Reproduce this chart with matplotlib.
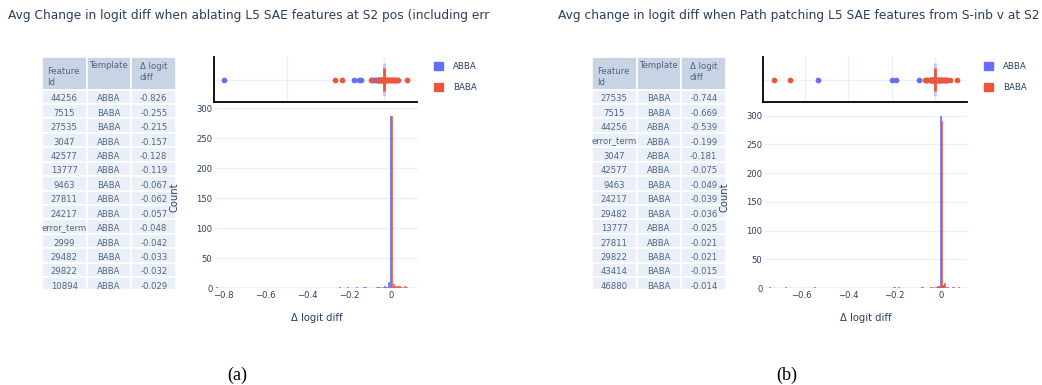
import numpy as np
import matplotlib
matplotlib.use('Agg')
import matplotlib.pyplot as plt
from matplotlib.patches import Rectangle, Patch
from matplotlib.ticker import FuncFormatter
from matplotlib.transforms import Bbox, TransformedBbox

W, H = 1042, 385
BLUE = '#636EFA'
RED = '#EF553B'
TXT = '#2a3f5f'
GRID = '#EBF0F8'
HEAD = '#C8D4E3'
CELL = '#EBF0F8'
TABLE_TXT = '#506784'

# ---- (a) ablating L5 SAE features at S2 pos ----
title_a = 'Avg Change in logit diff when ablating L5 SAE features at S2 pos (including err'
feat_a = ['44256', '7515', '27535', '3047', '42577', '13777', '9463',
          '27811', '24217', 'error_term', '2999', '29482', '29822', '10894']
tmpl_a = ['ABBA', 'BABA', 'BABA', 'ABBA', 'ABBA', 'ABBA', 'BABA',
          'ABBA', 'ABBA', 'ABBA', 'ABBA', 'BABA', 'ABBA', 'ABBA']
delta_a = [-0.826, -0.255, -0.215, -0.157, -0.128, -0.119, -0.067,
           -0.062, -0.057, -0.048, -0.042, -0.033, -0.032, -0.029]

abba_bins_a = [-0.83, -0.16, -0.13, -0.12, -0.06, -0.05, -0.04, -0.03, -0.02, -0.01, 0.0, 0.01]
abba_counts_a = [1, 1, 1, 1, 2, 1, 1, 4, 2, 10, 288, 2]
baba_bins_a = [-0.25, -0.21, -0.07, -0.03, 0.0, 0.01, 0.02, 0.03, 0.04, 0.05, 0.06, 0.07, 0.13]
baba_counts_a = [1, 1, 1, 1, 288, 7, 4, 3, 4, 2, 4, 2, 1]

abba_pts_a = [-0.826, -0.157, -0.128, -0.119, -0.062, -0.057, -0.048, -0.042,
              -0.032, -0.029, -0.025, -0.02, -0.015, -0.011, -0.008, 0.006, 0.01]
baba_pts_a = [-0.255, -0.215, -0.067, -0.033, -0.024, -0.016, -0.01, -0.005,
              0.005, 0.009, 0.014, 0.019, 0.024, 0.03, 0.035, 0.04, 0.046,
              0.052, 0.057, 0.063, 0.068, 0.072, 0.12]

# ---- (b) path patching from S-inb v at S2 ----
title_b = 'Avg change in logit diff when Path patching L5 SAE features from S-inb v at S2'
feat_b = ['27535', '7515', '44256', 'error_term', '3047', '42577', '9463',
          '24217', '29482', '13777', '27811', '29822', '43414', '46880']
tmpl_b = ['BABA', 'BABA', 'ABBA', 'ABBA', 'ABBA', 'ABBA', 'BABA',
          'BABA', 'BABA', 'ABBA', 'ABBA', 'BABA', 'BABA', 'BABA']
delta_b = [-0.744, -0.669, -0.539, -0.199, -0.181, -0.075, -0.049,
           -0.039, -0.036, -0.025, -0.021, -0.021, -0.015, -0.014]

abba_bins_b = [-0.54, -0.2, -0.18, -0.08, -0.02, -0.01, 0.0, 0.01, 0.03, 0.05]
abba_counts_b = [1, 1, 1, 1, 2, 3, 299, 6, 1, 1]
baba_bins_b = [-0.74, -0.67, -0.05, -0.04, -0.02, -0.01, 0.0, 0.01, 0.02, 0.05, 0.07, 0.11]
baba_counts_b = [1, 1, 1, 2, 4, 4, 291, 8, 2, 2, 1, 1]

abba_pts_b = [-0.539, -0.199, -0.181, -0.075, -0.025, -0.021, -0.012, -0.008,
              0.005, 0.01, 0.015, 0.026, 0.05]
baba_pts_b = [-0.744, -0.669, -0.049, -0.039, -0.036, -0.021, -0.015, -0.014,
              -0.01, -0.006, 0.004, 0.008, 0.012, 0.016, 0.02, 0.025, 0.03,
              0.035, 0.04, 0.045, 0.05, 0.055, 0.069, 0.1]

box_median = 0.0
BIN_W = 0.01

plt.rcParams['font.family'] = 'DejaVu Sans'
fig = plt.figure(figsize=(W / 100, H / 100), dpi=100)

# overlay axes in pixel units for titles, tables and captions
ov = fig.add_axes([0, 0, 1, 1])
ov.set_xlim(0, W)
ov.set_ylim(H, 0)
ov.axis('off')


def px_axes(x0, y0, x1, y1):
    return fig.add_axes([x0 / W, 1 - y1 / H, (x1 - x0) / W, (y1 - y0) / H])


def fmt_tick(v, _):
    s = '%g' % round(v, 6)
    if s in ('0', '-0'):
        return '0'
    return s.replace('-', '\u2212')


def draw_table(x0, ids, tmpls, deltas):
    col_w = 44.7
    top, head_bot, row_h, bottom = 57, 89.5, 14.44, 288.5
    clip = Rectangle((x0, top), 3 * col_w, bottom - top, transform=ov.transData)
    arts = []
    for c in range(3):
        arts.append(ov.add_patch(Rectangle((x0 + c * col_w, top), col_w, head_bot - top,
                                           fc=HEAD, ec='white', lw=1.2)))
    heads = [(5.3, ['Feature', 'Id'], 71), (47.3, ['Template'], 66), (98, ['\u0394 logit', 'diff'], 66.7)]
    for dx, lines, y in heads:
        for i, line in enumerate(lines):
            arts.append(ov.text(x0 + dx, y + i * 11.3, line, ha='left', va='center',
                                fontsize=6.1, color=TABLE_TXT))
    for r, row in enumerate(zip(ids, tmpls, ['%.3f' % d for d in deltas])):
        ytop = head_bot + r * row_h
        for c, val in enumerate(row):
            arts.append(ov.add_patch(Rectangle((x0 + c * col_w, ytop), col_w, row_h,
                                               fc=CELL, ec='white', lw=1.2)))
            arts.append(ov.text(x0 + (c + 0.5) * col_w, ytop + 9.2, val, ha='center',
                                va='center', fontsize=6.1, color=TABLE_TXT))
    for a in arts:
        a.set_clip_path(clip)


def draw_panel(dx, title, table, hist, pts, rug_rect, hist_rect, rug_xlim, rug_grid,
               hist_xlim, hist_ymax, hist_ticks, clip_title_at=None):
    # title
    t = ov.text(8 + dx, 15, title, ha='left', va='center', fontsize=8.8, color=TXT)
    if clip_title_at is not None:
        t.set_clip_box(TransformedBbox(Bbox.from_extents(0, 0, clip_title_at / W, 1), fig.transFigure))
        t.set_clip_on(True)

    draw_table(42 + dx, *table)

    # marginal box/outlier strip
    ax_r = px_axes(*rug_rect)
    ax_r.axhline(0, color=GRID, lw=1, zorder=0)
    ax_r.scatter(pts[0], np.zeros(len(pts[0])), s=17, color=BLUE, linewidths=0, zorder=3)
    ax_r.scatter(pts[1], np.zeros(len(pts[1])), s=17, color=RED, linewidths=0, zorder=4)
    ax_r.vlines(box_median, -0.72, 0.72, color=BLUE, alpha=0.35, lw=2, zorder=5)
    ax_r.vlines(box_median, -0.53, 0.53, color=RED, lw=2, zorder=6)
    ax_r.set_xlim(*rug_xlim)
    ax_r.set_ylim(-1, 1)
    ax_r.set_xticks(rug_grid)
    ax_r.set_xticklabels([])
    ax_r.set_yticks([])
    ax_r.tick_params(length=0)
    ax_r.grid(axis='x', color=GRID, lw=1)
    ax_r.set_axisbelow(True)
    for s in ('top', 'right'):
        ax_r.spines[s].set_visible(False)
    for s in ('left', 'bottom'):
        ax_r.spines[s].set_color('black')
        ax_r.spines[s].set_linewidth(1.3)

    ax_r.legend(handles=[Patch(color=BLUE, label='ABBA'), Patch(color=RED, label='BABA')],
                loc='upper left', bbox_to_anchor=((434 + dx) / W, 1 - 62 / H),
                bbox_transform=fig.transFigure, frameon=False, fontsize=6.2,
                handlelength=1.05, handleheight=1.05, handletextpad=1.15,
                labelspacing=1.35, borderpad=0, borderaxespad=0, labelcolor=TXT)

    # histogram, grouped bars per bin
    ax_h = px_axes(*hist_rect)
    ab_bins, ab_cnt, ba_bins, ba_cnt = hist
    ax_h.bar(np.array(ab_bins) - BIN_W / 4, ab_cnt, width=BIN_W / 2, color=BLUE,
             edgecolor=BLUE, linewidth=0.5, zorder=3)
    ax_h.bar(np.array(ba_bins) + BIN_W / 4, ba_cnt, width=BIN_W / 2, color=RED,
             edgecolor=RED, linewidth=0.5, zorder=3)
    ax_h.set_xlim(*hist_xlim)
    ax_h.set_ylim(0, hist_ymax)
    ax_h.set_yticks([0, 50, 100, 150, 200, 250, 300])
    ax_h.set_xticks(hist_ticks)
    ax_h.xaxis.set_major_formatter(FuncFormatter(fmt_tick))
    ax_h.grid(axis='y', color=GRID, lw=1)
    ax_h.axhline(0, color=GRID, lw=2, zorder=1)
    ax_h.set_axisbelow(True)
    for s in ax_h.spines.values():
        s.set_visible(False)
    ax_h.tick_params(length=0, labelsize=6.1, labelcolor=TXT, pad=1.8)
    ax_h.set_xlabel('\u0394 logit diff', fontsize=7.2, color=TXT)
    ax_h.set_ylabel('Count', fontsize=7.2, color=TXT)
    w_ax = hist_rect[2] - hist_rect[0]
    h_ax = hist_rect[3] - hist_rect[1]
    ax_h.xaxis.set_label_coords(0.5, -(313 - hist_rect[3]) / h_ax)
    ax_h.yaxis.set_label_coords(-(hist_rect[0] - 180 - dx) / w_ax, 0.5)


draw_panel(0, title_a, (feat_a, tmpl_a, delta_a),
           (abba_bins_a, abba_counts_a, baba_bins_a, baba_counts_a),
           (abba_pts_a, baba_pts_a),
           rug_rect=(214, 57, 417, 102), hist_rect=(215, 106, 418, 288),
           rug_xlim=(-0.878, 0.170), rug_grid=[-0.5, 0],
           hist_xlim=(-0.839, 0.129), hist_ymax=304,
           hist_ticks=[-0.8, -0.6, -0.4, -0.2, 0], clip_title_at=490)

draw_panel(550, title_b, (feat_b, tmpl_b, delta_b),
           (abba_bins_b, abba_counts_b, baba_bins_b, baba_counts_b),
           (abba_pts_b, baba_pts_b),
           rug_rect=(763, 57, 967, 102), hist_rect=(765, 106, 967, 288),
           rug_xlim=(-0.793, 0.146), rug_grid=[-0.6, -0.4, -0.2, 0],
           hist_xlim=(-0.755, 0.110), hist_ymax=317,
           hist_ticks=[-0.6, -0.4, -0.2, 0])

# sub-figure captions
ov.text(237, 375, '(a)', ha='center', va='center', fontsize=13, family='Liberation Serif', color='black')
ov.text(787, 375, '(b)', ha='center', va='center', fontsize=13, family='Liberation Serif', color='black')

fig.savefig('out.png', dpi=100)
